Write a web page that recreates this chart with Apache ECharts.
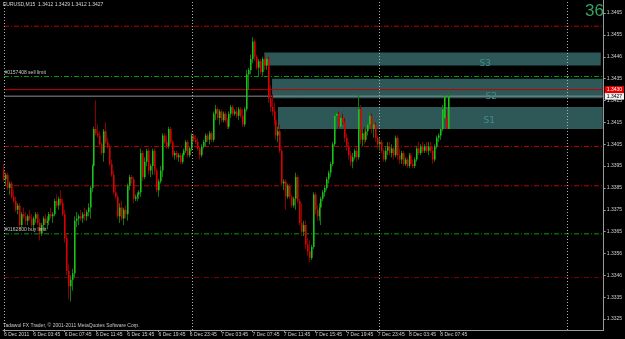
<!DOCTYPE html>
<html><head><meta charset="utf-8">
<script src="https://cdn.jsdelivr.net/npm/echarts@6/dist/echarts.min.js"></script>
<style>html,body{margin:0;padding:0;background:#000;}#c{width:625px;height:339px;}</style>
</head><body><div id="c"></div>
<script>
// EURUSD M15 candles, 6 Dec 2011 00:00 onward
const open = [1.3393,1.3389,1.3391,1.3385,1.3387,1.3381,1.3379,1.3375,1.3377,1.3368,
1.3373,1.3372,1.3370,1.3372,1.3371,1.3368,1.3371,1.3373,1.3369,1.3364,
1.3368,1.3371,1.3369,1.3370,1.3373,1.3372,1.3373,1.3379,1.3377,1.3380,
1.3378,1.3373,1.3362,1.3347,1.3340,1.3343,1.3346,1.3370,1.3371,1.3372,
1.3371,1.3373,1.3372,1.3374,1.3376,1.3385,1.3395,1.3412,1.3410,1.3409,
1.3405,1.3401,1.3411,1.3406,1.3404,1.3396,1.3391,1.3383,1.3381,1.3372,
1.3376,1.3371,1.3375,1.3373,1.3386,1.3390,1.3389,1.3380,1.3381,1.3382,
1.3383,1.3401,1.3390,1.3397,1.3402,1.3393,1.3395,1.3402,1.3393,1.3384,
1.3388,1.3393,1.3409,1.3406,1.3404,1.3412,1.3406,1.3400,1.3401,1.3399,
1.3400,1.3397,1.3400,1.3402,1.3406,1.3400,1.3403,1.3409,1.3407,1.3406,
1.3403,1.3400,1.3404,1.3406,1.3409,1.3407,1.3410,1.3407,1.3419,1.3421,
1.3417,1.3420,1.3416,1.3419,1.3416,1.3413,1.3419,1.3422,1.3419,1.3420,
1.3418,1.3421,1.3418,1.3414,1.3421,1.3437,1.3439,1.3444,1.3452,1.3445,
1.3440,1.3443,1.3438,1.3444,1.3441,1.3444,1.3426,1.3422,1.3420,1.3416,
1.3409,1.3411,1.3402,1.3387,1.3388,1.3381,1.3386,1.3381,1.3377,1.3380,
1.3390,1.3379,1.3369,1.3365,1.3368,1.3359,1.3356,1.3353,1.3358,1.3382,
1.3375,1.3372,1.3376,1.3380,1.3383,1.3385,1.3389,1.3392,1.3396,1.3405,
1.3418,1.3419,1.3413,1.3417,1.3415,1.3408,1.3404,1.3400,1.3397,1.3399,
1.3402,1.3399,1.3421,1.3407,1.3410,1.3407,1.3411,1.3414,1.3418,1.3412,
1.3414,1.3408,1.3405,1.3406,1.3402,1.3398,1.3402,1.3404,1.3401,1.3403,
1.3400,1.3408,1.3400,1.3398,1.3401,1.3396,1.3398,1.3395,1.3400,1.3396,
1.3395,1.3398,1.3403,1.3401,1.3404,1.3402,1.3404,1.3402,1.3404,1.3402,
1.3398,1.3404,1.3408,1.3409,1.3412,1.3417,1.3417,1.3412];
const high = [1.3396,1.3392,1.3392,1.3388,1.3388,1.3384,1.3381,1.3378,1.3378,1.3374,
1.3376,1.3374,1.3373,1.3375,1.3373,1.3372,1.3374,1.3374,1.3371,1.3369,
1.3372,1.3373,1.3372,1.3374,1.3376,1.3374,1.3380,1.3382,1.3381,1.3384,
1.3380,1.3375,1.3364,1.3350,1.3345,1.3348,1.3372,1.3374,1.3373,1.3375,
1.3374,1.3376,1.3375,1.3378,1.3386,1.3396,1.3413,1.3425,1.3414,1.3411,
1.3406,1.3412,1.3415,1.3408,1.3405,1.3398,1.3393,1.3386,1.3382,1.3378,
1.3379,1.3376,1.3377,1.3387,1.3391,1.3391,1.3390,1.3382,1.3383,1.3384,
1.3403,1.3402,1.3399,1.3403,1.3403,1.3396,1.3403,1.3403,1.3394,1.3389,
1.3395,1.3410,1.3410,1.3409,1.3413,1.3413,1.3407,1.3402,1.3402,1.3401,
1.3401,1.3401,1.3403,1.3407,1.3407,1.3404,1.3410,1.3410,1.3409,1.3408,
1.3404,1.3405,1.3407,1.3410,1.3410,1.3411,1.3411,1.3420,1.3423,1.3422,
1.3421,1.3421,1.3420,1.3420,1.3417,1.3420,1.3423,1.3423,1.3421,1.3422,
1.3422,1.3422,1.3421,1.3422,1.3439,1.3440,1.3446,1.3454,1.3453,1.3446,
1.3444,1.3444,1.3445,1.3446,1.3445,1.3445,1.3432,1.3428,1.3424,1.3418,
1.3413,1.3414,1.3403,1.3389,1.3389,1.3387,1.3387,1.3382,1.3381,1.3392,
1.3391,1.3380,1.3378,1.3370,1.3370,1.3362,1.3361,1.3359,1.3383,1.3383,
1.3377,1.3378,1.3381,1.3384,1.3386,1.3390,1.3393,1.3397,1.3406,1.3420,
1.3420,1.3420,1.3418,1.3419,1.3417,1.3410,1.3406,1.3402,1.3401,1.3403,
1.3404,1.3428,1.3423,1.3412,1.3413,1.3412,1.3415,1.3420,1.3419,1.3416,
1.3415,1.3409,1.3408,1.3407,1.3403,1.3404,1.3406,1.3406,1.3405,1.3404,
1.3409,1.3409,1.3403,1.3402,1.3402,1.3399,1.3399,1.3401,1.3401,1.3398,
1.3399,1.3404,1.3406,1.3405,1.3406,1.3405,1.3406,1.3406,1.3406,1.3404,
1.3405,1.3409,1.3410,1.3413,1.3423,1.3428,1.3421,1.3429];
const low = [1.3388,1.3386,1.3384,1.3382,1.3380,1.3378,1.3374,1.3373,1.3366,1.3367,
1.3371,1.3368,1.3368,1.3370,1.3367,1.3366,1.3369,1.3368,1.3361,1.3363,
1.3366,1.3368,1.3366,1.3368,1.3371,1.3369,1.3372,1.3376,1.3375,1.3377,
1.3372,1.3360,1.3345,1.3334,1.3333,1.3338,1.3344,1.3367,1.3368,1.3370,
1.3369,1.3370,1.3370,1.3372,1.3371,1.3383,1.3394,1.3409,1.3408,1.3404,
1.3400,1.3397,1.3405,1.3403,1.3395,1.3390,1.3382,1.3380,1.3371,1.3369,
1.3370,1.3368,1.3371,1.3370,1.3384,1.3387,1.3378,1.3379,1.3379,1.3380,
1.3381,1.3388,1.3389,1.3395,1.3391,1.3390,1.3391,1.3391,1.3383,1.3381,
1.3387,1.3390,1.3405,1.3403,1.3403,1.3405,1.3399,1.3398,1.3398,1.3397,
1.3396,1.3396,1.3399,1.3401,1.3399,1.3399,1.3402,1.3406,1.3405,1.3402,
1.3398,1.3399,1.3403,1.3404,1.3406,1.3405,1.3406,1.3406,1.3416,1.3416,
1.3414,1.3415,1.3415,1.3415,1.3412,1.3412,1.3417,1.3418,1.3418,1.3417,
1.3416,1.3417,1.3413,1.3413,1.3420,1.3430,1.3437,1.3442,1.3443,1.3439,
1.3436,1.3437,1.3436,1.3439,1.3439,1.3424,1.3420,1.3418,1.3414,1.3407,
1.3406,1.3401,1.3386,1.3384,1.3375,1.3380,1.3380,1.3376,1.3376,1.3375,
1.3378,1.3368,1.3363,1.3363,1.3357,1.3354,1.3351,1.3352,1.3357,1.3373,
1.3370,1.3370,1.3368,1.3379,1.3381,1.3384,1.3387,1.3390,1.3395,1.3404,
1.3416,1.3412,1.3412,1.3414,1.3406,1.3402,1.3398,1.3395,1.3394,1.3398,
1.3397,1.3398,1.3405,1.3404,1.3405,1.3406,1.3409,1.3412,1.3410,1.3408,
1.3406,1.3403,1.3402,1.3401,1.3397,1.3397,1.3400,1.3400,1.3399,1.3398,
1.3399,1.3398,1.3396,1.3396,1.3395,1.3395,1.3394,1.3394,1.3395,1.3394,
1.3394,1.3397,1.3400,1.3400,1.3401,1.3401,1.3401,1.3400,1.3401,1.3396,
1.3397,1.3403,1.3406,1.3407,1.3411,1.3416,1.3412,1.3412];
const close = [1.3389,1.3391,1.3385,1.3387,1.3381,1.3379,1.3375,1.3377,1.3368,1.3373,
1.3372,1.3370,1.3372,1.3371,1.3368,1.3371,1.3373,1.3369,1.3364,1.3368,
1.3371,1.3369,1.3370,1.3373,1.3372,1.3373,1.3379,1.3377,1.3380,1.3378,
1.3373,1.3362,1.3347,1.3340,1.3343,1.3346,1.3370,1.3371,1.3372,1.3371,
1.3373,1.3372,1.3374,1.3376,1.3385,1.3395,1.3412,1.3410,1.3409,1.3405,
1.3401,1.3411,1.3406,1.3404,1.3396,1.3391,1.3383,1.3381,1.3372,1.3376,
1.3371,1.3375,1.3373,1.3386,1.3390,1.3389,1.3380,1.3381,1.3382,1.3383,
1.3401,1.3390,1.3397,1.3402,1.3393,1.3395,1.3402,1.3393,1.3384,1.3388,
1.3393,1.3409,1.3406,1.3404,1.3412,1.3406,1.3400,1.3401,1.3399,1.3400,
1.3397,1.3400,1.3402,1.3406,1.3400,1.3403,1.3409,1.3407,1.3406,1.3403,
1.3400,1.3404,1.3406,1.3409,1.3407,1.3410,1.3407,1.3419,1.3421,1.3417,
1.3420,1.3416,1.3419,1.3416,1.3413,1.3419,1.3422,1.3419,1.3420,1.3418,
1.3421,1.3418,1.3414,1.3421,1.3437,1.3439,1.3444,1.3452,1.3445,1.3440,
1.3443,1.3438,1.3444,1.3441,1.3444,1.3426,1.3422,1.3420,1.3416,1.3409,
1.3411,1.3402,1.3387,1.3388,1.3381,1.3386,1.3381,1.3377,1.3380,1.3390,
1.3379,1.3369,1.3365,1.3368,1.3359,1.3356,1.3353,1.3358,1.3382,1.3375,
1.3372,1.3376,1.3380,1.3383,1.3385,1.3389,1.3392,1.3396,1.3405,1.3418,
1.3419,1.3413,1.3417,1.3415,1.3408,1.3404,1.3400,1.3397,1.3399,1.3402,
1.3399,1.3421,1.3407,1.3410,1.3407,1.3411,1.3414,1.3418,1.3412,1.3414,
1.3408,1.3405,1.3406,1.3402,1.3398,1.3402,1.3404,1.3401,1.3403,1.3400,
1.3408,1.3400,1.3398,1.3401,1.3396,1.3398,1.3395,1.3400,1.3396,1.3395,
1.3398,1.3403,1.3401,1.3404,1.3402,1.3404,1.3402,1.3404,1.3402,1.3398,
1.3404,1.3408,1.3409,1.3412,1.3421,1.3427,1.3412,1.3427];

const slotCount = 307;          // M15 slots incl. chart shift
const daySeparators = [0, 96, 192, 288];
const yTickValues = [1.3465,1.3455,1.3445,1.3435,1.3425,1.3415,1.3405,1.3395,1.3385,1.3375,1.3365,1.3355,1.3345,1.3335,1.3325];
const yTickLabels = ['1.3465','1.3455','1.3446','1.3435','1.3425','1.3415','1.3405','1.3395','1.3385','1.3375','1.3365','1.3356','1.3346','1.3335','1.3325'];
const redLevels = [1.3459, 1.3404, 1.3386];
const darkRedLevels = [1.3344];
const sellLimit = 1.3436, buyLimit = 1.3364;
const askPrice = 1.3430, bidPrice = 1.3427;
const zoneNames = ['S3','S2','S1'];
const zoneStart = [133, 137, 140];
const zoneEnd = [305, 306, 306];
const zoneLow = [1.3441, 1.3426, 1.3412];
const zoneHigh = [1.3447, 1.3435, 1.3422];
const zoneLabelSlot = [246, 249, 248];
const zoneLabelPrice = [1.3442, 1.3427, 1.3416];

const categories = [];
for (let i = 0; i < slotCount; i++) {
  const m = i * 15, d = 6 + Math.floor(m / 1440);
  const hh = Math.floor((m % 1440) / 60), mm = m % 60;
  categories.push(i === 0 ? '6 Dec 2011' : d + ' Dec ' + String(hh).padStart(2,'0') + ':' + String(mm).padStart(2,'0'));
}
const lastSlot = slotCount - 1;
const candleData = open.map((o, i) => [i, o, close[i], low[i], high[i]]);
const showLabel = (idx) => idx < open.length && (idx === 0 || (idx >= 15 && (idx - 15) % 16 === 0));

const BULL = '#19c419', BULL_WICK = '#0f7a0f', BEAR = '#dc0000', BEAR_WICK = '#8a0000';
function renderCandle(params, api) {
  const i = api.value(0), o = api.value(1), c = api.value(2), l = api.value(3), h = api.value(4);
  const pO = api.coord([i, o]), pC = api.coord([i, c]), pL = api.coord([i, l]), pH = api.coord([i, h]);
  const up = c >= o;
  const xc = Math.floor(pO[0]) + 0.5;
  const top = Math.min(pO[1], pC[1]), bot = Math.max(pO[1], pC[1]);
  return {type: 'group', children: [
    {type: 'line', shape: {x1: xc, y1: pH[1], x2: xc, y2: pL[1]}, style: {stroke: up ? BULL_WICK : BEAR_WICK, lineWidth: 1}},
    {type: 'rect', shape: {x: xc - 0.5, y: top, width: 1.6, height: Math.max(1, bot - top)}, style: {fill: up ? BULL : BEAR}}
  ]};
}

const dashDot = [5, 2, 1, 2];
const levelSeries = [];
function hLine(v, color, type, labelText, labelPos, labelStyle) {
  levelSeries.push({
    type: 'line', data: [[categories[0], v], [categories[lastSlot], v]], symbol: 'none', silent: true, z: 3,
    lineStyle: {color: color, type: type, width: 1},
    endLabel: labelPos === 'end' ? Object.assign({show: true, formatter: labelText, fontSize: 5, padding: [1, 2], distance: 2}, labelStyle) : {show: false},
    markPoint: labelPos === 'start' ? {
      symbol: 'rect', symbolSize: [1, 1], itemStyle: {color: 'rgba(0,0,0,0)'},
      label: {show: true, position: 'right', distance: 0, offset: [0, -4], formatter: labelText, color: '#c8c8c8', fontSize: 5, fontFamily: 'Liberation Sans'},
      data: [{coord: [categories[0], v]}]
    } : undefined
  });
}
redLevels.forEach(v => hLine(v, '#c00000', dashDot));
darkRedLevels.forEach(v => hLine(v, '#7a0000', dashDot));
hLine(sellLimit, '#00a000', dashDot, '#0157408 sell limit', 'start');
hLine(buyLimit, '#00a000', dashDot, '#0162800 buy limit', 'start');
hLine(bidPrice, '#8c8c8c', 'solid', bidPrice.toFixed(4), 'end', {backgroundColor: '#f0f0f0', color: '#000'});
hLine(askPrice, '#c00000', 'solid', askPrice.toFixed(4), 'end', {backgroundColor: '#e00000', color: '#fff'});

const areas = zoneNames.map((n, k) => [
  {xAxis: categories[zoneStart[k]], yAxis: zoneHigh[k]},
  {xAxis: categories[zoneEnd[k]], yAxis: zoneLow[k]}
]);
const zoneLabels = zoneNames.map((n, k) => ({name: n, coord: [categories[zoneLabelSlot[k]], zoneLabelPrice[k]]}));

const chart = echarts.init(document.getElementById('c'));
chart.setOption({
  backgroundColor: '#000',
  animation: false,
  title: [
    {text: 'EURUSD,M15  1.3412 1.3429 1.3412 1.3427', left: 3, top: 2, padding: 0,
     textStyle: {color: '#d8d8d8', fontSize: 5, fontWeight: 'normal', fontFamily: 'Liberation Sans'}},
    {text: '36', right: 21, top: 3, padding: 0,
     textStyle: {color: '#37a062', fontSize: 17, fontWeight: 'normal', fontFamily: 'Liberation Sans'}},
    {text: 'Tadawul FX Trader, © 2001-2011 MetaQuotes Software Corp.', left: 3, top: 323, padding: 0,
     textStyle: {color: '#c8c8c8', fontSize: 5, fontWeight: 'normal', fontFamily: 'Liberation Sans'}}
  ],
  grid: {left: 3, right: 19, top: 0, bottom: 9},
  xAxis: {
    type: 'category', data: categories, boundaryGap: true,
    axisLine: {lineStyle: {color: '#9a9a9a'}},
    axisTick: {show: true, interval: showLabel, alignWithLabel: true, length: 2, lineStyle: {color: '#9a9a9a'}},
    axisLabel: {interval: showLabel, align: 'left', color: '#d0d0d0', fontSize: 5, margin: 2, fontFamily: 'Liberation Sans'},
    splitLine: {show: false}
  },
  yAxis: {
    type: 'value', position: 'right', min: 1.3320, max: 1.3471, scale: true,
    splitLine: {show: false},
    axisLine: {show: true, lineStyle: {color: '#9a9a9a'}},
    axisTick: {show: true, length: 2, customValues: yTickValues, lineStyle: {color: '#9a9a9a'}},
    axisLabel: {customValues: yTickValues, color: '#d0d0d0', fontSize: 5, margin: 3, fontFamily: 'Liberation Sans',
      formatter: v => {
        let best = 0;
        yTickValues.forEach((t, k) => { if (Math.abs(t - v) < Math.abs(yTickValues[best] - v)) best = k; });
        return yTickLabels[best];
      }}
  },
  series: [
    {type: 'line', data: [], silent: true, z: 1,
     markArea: {silent: true, itemStyle: {color: '#2e5858'}, data: areas},
     markLine: {silent: true, symbol: ['none', 'none'], label: {show: false},
       lineStyle: {color: '#b0b0b0', type: [1, 2], width: 1},
       data: daySeparators.map(i => ({xAxis: categories[i]}))},
     markPoint: {silent: true, symbol: 'rect', symbolSize: [1, 1], itemStyle: {color: 'rgba(0,0,0,0)'},
       label: {show: true, position: 'inside', formatter: p => p.name, color: '#3f8e8e', fontSize: 9, fontFamily: 'DejaVu Sans'},
       data: zoneLabels}}
  ].concat(levelSeries).concat([
    {type: 'custom', data: candleData, z: 5, silent: true, clip: true,
     encode: {x: 0, y: [1, 2, 3, 4]}, renderItem: renderCandle}
  ])
});
</script></body></html>
